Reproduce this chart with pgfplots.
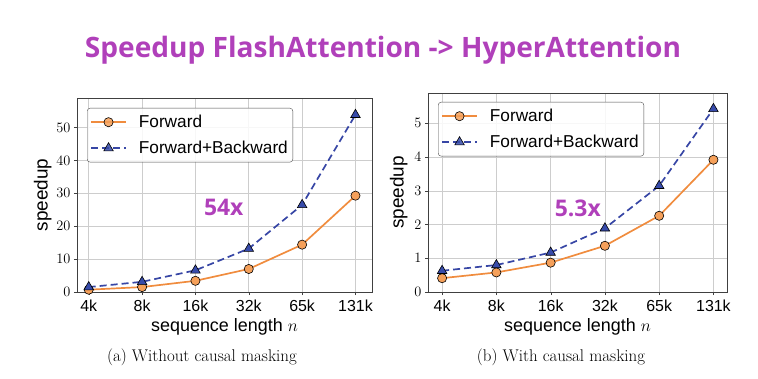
\documentclass[border=0pt]{standalone}
\usepackage{pgfplots}
\pgfplotsset{compat=1.18}
\usepackage{fontspec}
\newfontfamily\lsans{Liberation Sans}
\newfontfamily\osans{Open Sans}
\definecolor{ttl}{RGB}{176,64,186}
\definecolor{orgline}{RGB}{240,140,62}
\definecolor{orgfill}{RGB}{245,160,90}
\definecolor{bluline}{RGB}{55,70,165}
\definecolor{blufill}{RGB}{55,75,170}
\definecolor{gridc}{RGB}{205,205,205}
\pgfplotstableread{
x fwd fb
0 0.7 1.5
1 1.5 3.1
2 3.4 6.6
3 7.0 13.2
4 14.4 26.5
5 29.3 53.9
}\tabA
\pgfplotstableread{
x fwd fb
0 0.41 0.63
1 0.58 0.80
2 0.87 1.17
3 1.37 1.89
4 2.26 3.15
5 3.92 5.43
}\tabB
\pgfplotsset{
  common/.style={
    scale only axis,
    xtick={0,1,2,3,4,5},
    xticklabels={4k,8k,16k,32k,65k,131k},
    grid=major,
    major grid style={gridc, line width=0.6pt},
    axis line style={black!75, line width=0.6pt},
    tick align=outside,
    major tick length=3bp,
    tick style={black!75},
    xtick pos=bottom, ytick pos=left,
    xticklabel style={font=\lsans\fontsize{16}{18}\selectfont, yshift=-1bp},
    yticklabel style={font=\fontsize{15.5}{18}\selectfont},
    xlabel={\lsans\fontsize{18}{20}\selectfont sequence length $n$},
    ylabel={\lsans\fontsize{19}{21}\selectfont speedup},
    legend cell align=left,
    legend style={font=\lsans\fontsize{17.3}{19}\selectfont, draw=black!70, rounded corners=3bp, fill=white, fill opacity=0.85, text opacity=1, inner xsep=3bp, inner ysep=5bp, row sep=8bp, nodes={inner sep=2bp}},
    legend image code/.code={
      \draw[#1, mark=none] (0bp,0bp) -- (35bp,0bp);
      \draw[#1, only marks] plot coordinates {(17.5bp,0bp)};
      \path (45bp,0bp);
    },
  },
  fwd/.style={orgline, line width=1.7pt, mark=*, mark size=4.6bp, mark options={fill=orgfill, draw=black, line width=0.6pt, solid}},
  fb/.style={bluline, line width=1.7pt, dashed, dash pattern=on 7bp off 4bp, mark=triangle*, mark size=5.5bp, mark options={fill=blufill, draw=black, line width=0.6pt, solid}},
}
\begin{document}
\begin{tikzpicture}
\path[use as bounding box] (0,0) rectangle (758bp,379bp);
\node[text=ttl] at (383bp,329bp) {\resizebox{596bp}{!}{\osans\bfseries Speedup FlashAttention -> HyperAttention}};
\begin{axis}[common,
  at={(77bp,87bp)}, anchor=south west,
  width=295bp, height=194bp,
  xmin=-0.22, xmax=5.31, ymin=0, ymax=59,
  ytick={0,10,20,30,40,50},
  ylabel style={yshift=-2bp},
  legend style={at={(10bp,184bp)}, anchor=north west},
]
\addplot[fwd] table[x=x,y=fwd]{\tabA};
\addlegendentry{Forward}
\addplot[fb] table[x=x,y=fb]{\tabA};
\addlegendentry{Forward+Backward}
\node[text=ttl, font=\osans\bfseries\fontsize{23}{26}\selectfont] at (axis cs:2.53,25.6) {54x};
\end{axis}
\begin{axis}[common,
  at={(428bp,87bp)}, anchor=south west,
  width=299bp, height=199bp,
  xmin=-0.26, xmax=5.25, ymin=0, ymax=5.9,
  ytick={0,1,2,3,4,5},
  legend style={at={(10bp,190bp)}, anchor=north west},
]
\addplot[fwd] table[x=x,y=fwd]{\tabB};
\addlegendentry{Forward}
\addplot[fb] table[x=x,y=fb]{\tabB};
\addlegendentry{Forward+Backward}
\node[text=ttl, font=\osans\bfseries\fontsize{23}{26}\selectfont] at (axis cs:2.5,2.47) {5.3x};
\end{axis}
\node[font=\fontsize{17}{20}\selectfont] at (202bp,22bp) {(a) Without causal masking};
\node[font=\fontsize{17}{20}\selectfont] at (561bp,22bp) {(b) With causal masking};
\end{tikzpicture}
\end{document}
